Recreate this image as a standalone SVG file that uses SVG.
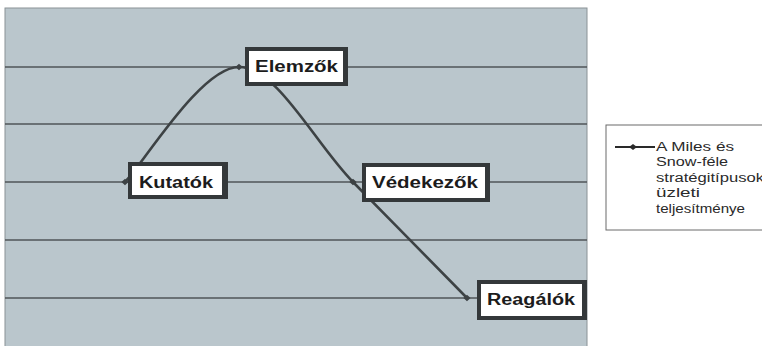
<svg xmlns="http://www.w3.org/2000/svg" width="762" height="346" viewBox="0 0 762 346">
  <style>
    .grid { stroke: #4f5558; stroke-width: 1.3; }
    .series { fill: none; stroke: #3d4244; stroke-width: 2.6; stroke-linejoin: round; }
    .frame { fill: #34383a; }
    .face { fill: #ffffff; }
    .lbl { font-family: "Liberation Sans", Arial, sans-serif; font-weight: bold; font-size: 16px; fill: #1c1c1c; }
    .leg { font-family: "Liberation Sans", Arial, sans-serif; font-size: 12px; fill: #2a2a2a; }
  </style>
  <defs>
    <marker id="pt" viewBox="-5 -5 10 10" markerWidth="9" markerHeight="9" markerUnits="userSpaceOnUse">
      <path d="M-4 0 L0 -3.5 L4 0 L0 3.5 Z" fill="#3d4244"/>
    </marker>
  </defs>

  <rect width="762" height="346" fill="#ffffff"/>

  <!-- plot area -->
  <g id="plot">
    <rect x="5" y="8" width="582" height="340" fill="#bac6cc" stroke="#8a9296" stroke-width="1"/>
    <line class="grid" x1="5" y1="67" x2="587" y2="67"/>
    <line class="grid" x1="5" y1="124" x2="587" y2="124"/>
    <line class="grid" x1="5" y1="182" x2="587" y2="182"/>
    <line class="grid" x1="5" y1="240" x2="587" y2="240"/>
    <line class="grid" x1="5" y1="298" x2="587" y2="298"/>
  </g>

  <!-- smoothed performance line -->
  <g id="connectors">
    <path class="series" marker-start="url(#pt)" marker-mid="url(#pt)" marker-end="url(#pt)"
          d="M125 182 C144 162.8 201 67 239 67 C277 67 315 143.5 353 182 C391 220.5 448 278.7 467 298"/>
  </g>

  <g id="kutatok">
    <rect class="frame" x="128" y="162" width="100" height="37"/>
    <rect class="face" x="132" y="166" width="90" height="29"/>
    <text class="lbl" x="139" y="188" textLength="74" lengthAdjust="spacingAndGlyphs">Kutatók</text>
  </g>

  <g id="elemzok">
    <rect class="frame" x="245" y="47" width="103" height="39"/>
    <rect class="face" x="249" y="51" width="94" height="31"/>
    <text class="lbl" x="255" y="72" textLength="83" lengthAdjust="spacingAndGlyphs">Elemzők</text>
  </g>

  <g id="vedekezok">
    <rect class="frame" x="362" y="163" width="128" height="39"/>
    <rect class="face" x="366" y="167" width="119" height="31"/>
    <text class="lbl" x="372" y="188" textLength="106" lengthAdjust="spacingAndGlyphs">Védekezők</text>
  </g>

  <g id="reagalok">
    <rect class="frame" x="477" y="280" width="110" height="40"/>
    <rect class="face" x="481" y="284" width="101" height="32"/>
    <text class="lbl" x="487" y="305" textLength="88" lengthAdjust="spacingAndGlyphs">Reagálók</text>
  </g>

  <!-- legend -->
  <g id="legend">
    <rect x="606" y="125" width="170" height="105" fill="#ffffff" stroke="#6a6a6a" stroke-width="1"/>
    <line x1="615" y1="147" x2="655" y2="147" stroke="#2a2a2a" stroke-width="2"/>
    <path d="M629 147 L633 144 L637 147 L633 150 Z" fill="#2a2a2a"/>
    <text class="leg" x="656" y="151" textLength="78" lengthAdjust="spacingAndGlyphs">A Miles és</text>
    <text class="leg" x="656" y="166" textLength="72" lengthAdjust="spacingAndGlyphs">Snow-féle</text>
    <text class="leg" x="656" y="182" textLength="108" lengthAdjust="spacingAndGlyphs">stratégitípusok</text>
    <text class="leg" x="656" y="197" textLength="44" lengthAdjust="spacingAndGlyphs">üzleti</text>
    <text class="leg" x="656" y="213" textLength="89" lengthAdjust="spacingAndGlyphs">teljesítménye</text>
  </g>
</svg>
